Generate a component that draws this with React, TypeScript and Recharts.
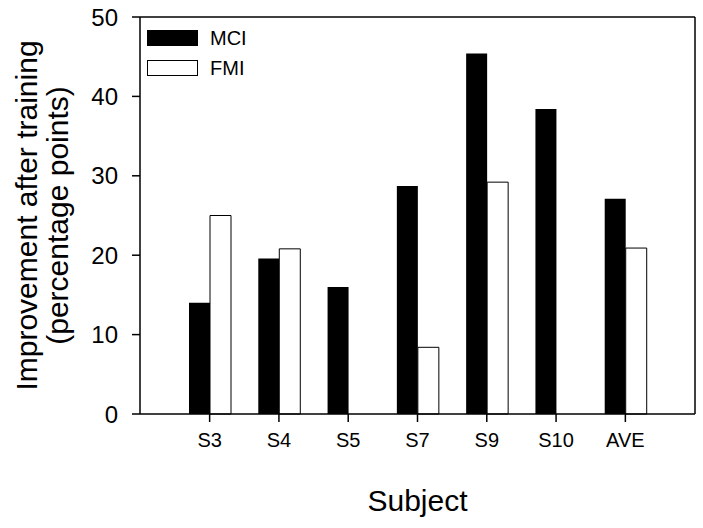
import React from 'react';
import { BarChart, Bar, XAxis, YAxis, Legend, CartesianGrid } from 'recharts';

const subjects = ['S3', 'S4', 'S5', 'S7', 'S9', 'S10', 'AVE'];
const mciValues = [14.0, 19.6, 16.0, 28.7, 45.4, 38.4, 27.1];
const fmiValues = [25.0, 20.8, 0, 8.4, 29.2, 0, 20.9];
const yTicks = [0, 10, 20, 30, 40, 50];
const seriesOrder = ['MCI', 'FMI'];

const data = subjects.map((s, i) => ({ subject: s, MCI: mciValues[i], FMI: fmiValues[i] }));

const FONT = '"Liberation Sans", Arial, sans-serif';

const YLabel = (props: any) => {
  const cy = 215.5;
  return (
    <g fontFamily={FONT} fontSize={30} fill="#000">
      <text x={37} y={cy} transform={`rotate(-90 37 ${cy})`} textAnchor="middle">
        Improvement after training
      </text>
      <text x={68} y={cy} transform={`rotate(-90 68 ${cy})`} textAnchor="middle">
        (percentage points)
      </text>
    </g>
  );
};

const LegendBox = ({ payload }: any) => {
  const items = seriesOrder.map((name) => {
    const p = (payload || []).find((it: any) => it.value === name || it.dataKey === name);
    return { name, filled: p ? p.payload?.fill === '#000' || name === 'MCI' : name === 'MCI' };
  });
  return (
    <div style={{ fontFamily: FONT, fontSize: 20, color: '#000' }}>
      {items.map((it) => (
        <div key={it.name} style={{ display: 'flex', alignItems: 'center', height: 30 }}>
          <div
            style={{
              width: 51,
              height: 16,
              flexShrink: 0,
              boxSizing: 'border-box',
              background: it.filled ? '#000' : '#fff',
              border: '1px solid #000',
              marginRight: 12,
            }}
          />
          <span style={{ whiteSpace: 'nowrap' }}>{it.name}</span>
        </div>
      ))}
    </div>
  );
};

// frame lines on the top and right edge of the plot area
const topEdge = ({ offset }: any) => [offset.top];
const rightEdge = ({ offset }: any) => [offset.left + offset.width];

export default function App() {
  return (
    <div style={{ position: 'absolute', left: 0, top: 0, width: 703, height: 528, background: '#fff' }}>
      <BarChart
        width={703}
        height={528}
        data={data}
        margin={{ top: 17, right: 8, bottom: 0, left: 0 }}
        barGap={0}
        barSize={21}
      >
        <CartesianGrid
          stroke="#000"
          strokeWidth={1.5}
          horizontalCoordinatesGenerator={topEdge}
          verticalCoordinatesGenerator={rightEdge}
        />
        <XAxis
          dataKey="subject"
          padding={{ left: 35, right: 35 }}
          height={114}
          tickSize={8}
          tickMargin={11}
          axisLine={{ stroke: '#000', strokeWidth: 1.5 }}
          tickLine={{ stroke: '#000', strokeWidth: 1.5 }}
          tick={{ fill: '#000', fontSize: 20, fontFamily: FONT }}
          label={{ value: 'Subject', position: 'insideBottom', offset: 17, fill: '#000', fontSize: 30, fontFamily: FONT }}
        />
        <YAxis
          domain={[0, 50]}
          ticks={yTicks}
          width={140}
          tickSize={8}
          tickMargin={14}
          axisLine={{ stroke: '#000', strokeWidth: 1.5 }}
          tickLine={{ stroke: '#000', strokeWidth: 1.5 }}
          tick={{ fill: '#000', fontSize: 24, fontFamily: FONT }}
          label={<YLabel />}
        />
        <Legend
          layout="vertical"
          verticalAlign="middle"
          align="center"
          content={<LegendBox />}
          wrapperStyle={{ left: 147, top: 23, width: 'auto', height: 'auto' }}
        />
        <Bar dataKey="MCI" fill="#000" isAnimationActive={false} />
        <Bar dataKey="FMI" fill="#fff" stroke="#000" strokeWidth={1} isAnimationActive={false} />
      </BarChart>
    </div>
  );
}
